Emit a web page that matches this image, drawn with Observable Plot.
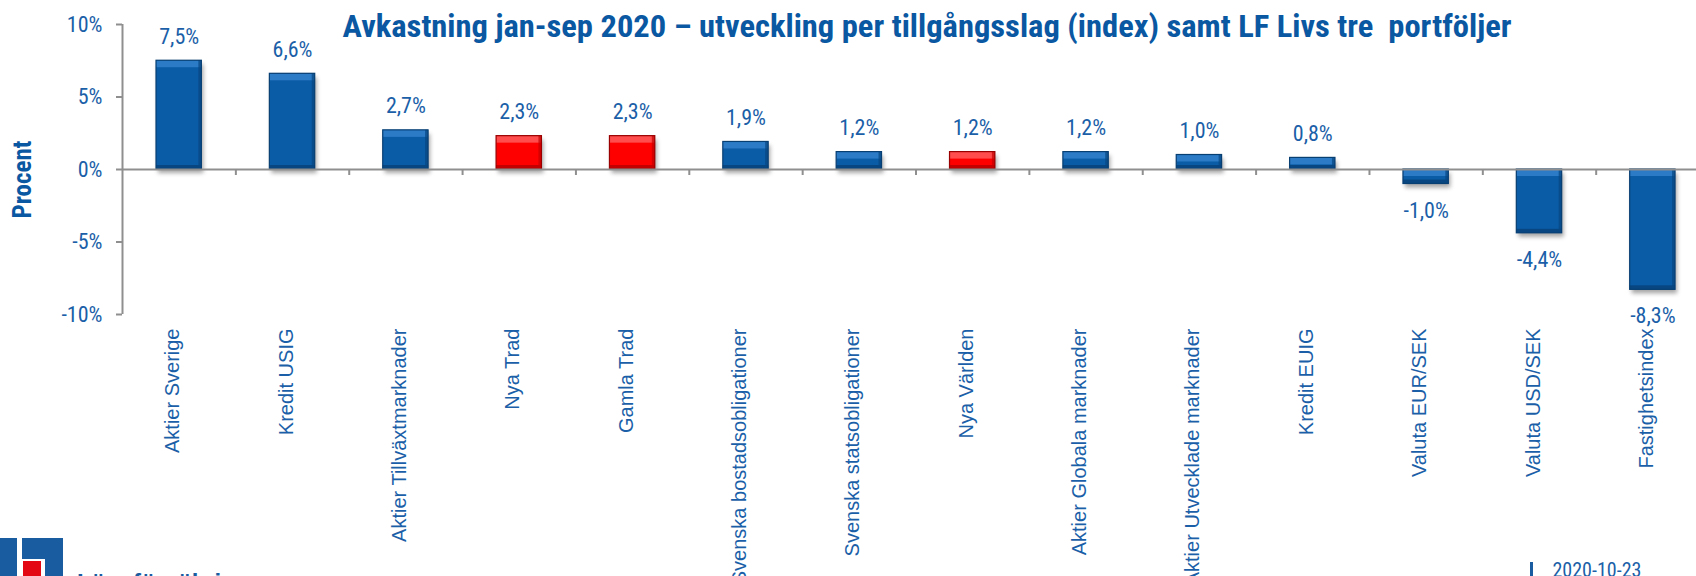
<!DOCTYPE html>
<html>
<head>
<meta charset="utf-8">
<script src="https://cdn.jsdelivr.net/npm/d3@7"></script>
<script src="https://cdn.jsdelivr.net/npm/@observablehq/plot@0.6"></script>
<style>
  html, body { margin: 0; padding: 0; background: #fff; }
  #wrap { position: relative; width: 1696px; height: 576px; overflow: hidden; background: #fff; }
  #wrap svg { display: block; overflow: hidden; }
  .logo { position: absolute; }
  #logoText { position: absolute; left: 77px; top: 569px; font: bold 24px "Liberation Sans", Arial, sans-serif; color: #1a5ca0; white-space: nowrap; }
  #dateBar { position: absolute; left: 1530px; top: 562px; width: 3px; height: 14px; background: #1a5ca0; }
</style>
</head>
<body>
<div id="wrap"></div>
<script>
// ---- data ----
const categories = [
  "Aktier Sverige", "Kredit USIG", "Aktier Tillväxtmarknader", "Nya Trad", "Gamla Trad",
  "Svenska bostadsobligationer", "Svenska statsobligationer", "Nya Världen",
  "Aktier Globala marknader", "Aktier Utvecklade marknader", "Kredit EUIG",
  "Valuta EUR/SEK", "Valuta USD/SEK", "Fastighetsindex"
];
const values = [7.5, 6.6, 2.7, 2.3, 2.3, 1.9, 1.2, 1.2, 1.2, 1.0, 0.8, -1.0, -4.4, -8.3];
const valueLabels = ["7,5%", "6,6%", "2,7%", "2,3%", "2,3%", "1,9%", "1,2%", "1,2%", "1,2%", "1,0%", "0,8%", "-1,0%", "-4,4%", "-8,3%"];
const isPortfolio = [false, false, false, true, true, false, false, true, false, false, false, false, false, false];
const yTicks = [-10, -5, 0, 5, 10];
const yTickLabels = ["-10%", "-5%", "0%", "5%", "10%"];
const titleText = "Avkastning jan-sep 2020 – utveckling per tillgångsslag (index) samt LF Livs tre  portföljer";
const yLabel = "Procent";
const dateText = "2020-10-23";
const logoText = "Länsförsäkringar";

// ---- styles ----
const BLUE = "#0b5ca6", BLUE_LIGHT = "#3383cf", BLUE_DARK = "#074680", BLUE_EDGE = "#083f73";
const RED = "#ff0000", RED_LIGHT = "#ff6060", RED_DARK = "#c40000", RED_EDGE = "#9a0000";
const TXT = "#1b5fa8", TITLE = "#0a57a2", GREY = "#8f8f8f";
const NARROW = "'Liberation Sans Narrow', 'Arial Narrow', 'Roboto Condensed', 'Liberation Sans', sans-serif";
const REG = "'Liberation Sans', Arial, sans-serif";

const data = categories.map((c, i) => ({
  c, i, v: values[i], label: valueLabels[i], p: isPortfolio[i]
}));
const bx1 = d => d.i + 0.3, bx2 = d => d.i + 0.7, bxc = d => d.i + 0.5;

const plot = Plot.plot({
  width: 1696,
  height: 576,
  marginLeft: 122,
  marginRight: 0,
  marginTop: 24,
  marginBottom: 262,
  x: { type: "linear", domain: [0, categories.length], range: [122, 122 + 113.36 * categories.length], axis: null },
  y: { domain: [-10, 10], axis: null },
  color: { type: "identity" },
  style: { background: "#fff" },
  marks: [
    // y axis line and ticks
    Plot.ruleX([0], { y1: -10, y2: 10, stroke: GREY, strokeWidth: 2 }),
    Plot.ruleY(yTicks, { x1: 0, x2: 0, insetLeft: -6, stroke: GREY, strokeWidth: 2 }),
    Plot.text(yTicks, { y: d => d, frameAnchor: "left", dx: -20, textAnchor: "end",
      text: (d, i) => yTickLabels[i], fill: TXT, fontSize: 22, fontFamily: NARROW }),
    // bars
    Plot.rectY(data, { x1: bx1, x2: bx2, y1: 0, y2: "v", fill: d => d.p ? RED : BLUE }),
    Plot.rectY(data, { x1: bx1, x2: bx2, y1: d => Math.max(d.v, 0), y2: d => Math.max(d.v, 0),
      insetBottom: -7, fill: d => d.p ? RED_LIGHT : BLUE_LIGHT, fillOpacity: 0.8 }),
    Plot.rectY(data, { x1: bx2, x2: bx2, y1: 0, y2: "v", insetLeft: -3,
      fill: d => d.p ? RED_DARK : BLUE_DARK, fillOpacity: 0.7 }),
    Plot.rectY(data, { x1: bx1, x2: bx2, y1: d => Math.min(d.v, 0), y2: d => Math.min(d.v, 0),
      insetTop: -4, fill: d => d.p ? RED_DARK : BLUE_DARK }),
    Plot.rectY(data, { x1: bx1, x2: bx2, y1: 0, y2: "v", fill: "none",
      stroke: d => d.p ? RED_EDGE : BLUE_EDGE, strokeWidth: 1.2 }),
    // zero line and category boundary ticks
    Plot.ruleY([0], { x1: 0, x2: categories.length, stroke: GREY, strokeWidth: 2 }),
    Plot.ruleX(d3.range(1, categories.length), { y1: 0, y2: 0, insetBottom: -6, stroke: GREY, strokeWidth: 2 }),
    // value labels
    Plot.text(data.filter(d => d.v >= 0), { x: bxc, y: "v", text: "label", lineAnchor: "bottom", dy: -17,
      fill: TXT, fontSize: 22, fontFamily: NARROW }),
    Plot.text(data.filter(d => d.v < 0), { x: bxc, y: "v", text: "label", lineAnchor: "top", dy: 18,
      fill: TXT, fontSize: 22, fontFamily: NARROW }),
    // category labels
    Plot.text(data, { x: bxc, frameAnchor: "bottom", text: "c", rotate: -90, textAnchor: "end", dy: 14,
      fill: TXT, fontSize: 20, fontFamily: REG }),
    // y label
    Plot.text([yLabel], { x: 0, y: 0, dx: -100, dy: 10, rotate: -90, text: d => d,
      fill: TITLE, fontSize: 25, fontWeight: "bold", fontFamily: NARROW }),
    // title
    Plot.text([titleText], { frameAnchor: "top-left", dx: 220, dy: 12, textAnchor: "start", lineAnchor: "bottom",
      text: d => d, fill: TITLE, fontSize: 32, fontWeight: "bold", fontFamily: NARROW }),
    // date
    Plot.text([dateText], { frameAnchor: "bottom-left", dx: 1430, dy: 262, textAnchor: "start", lineAnchor: "bottom",
      text: d => d, fill: TXT, fontSize: 20, fontFamily: NARROW })
  ]
});

// soft shadow under the main bar fills
for (const r of plot.querySelectorAll("rect")) {
  const f = (r.getAttribute("fill") || "").toLowerCase();
  if (f === BLUE || f === RED) r.style.filter = "drop-shadow(2px 4px 2px rgba(0,0,0,0.35))";
}
// fit title width
for (const t of plot.querySelectorAll("text")) {
  if (t.textContent === titleText) {
    t.setAttribute("textLength", "1169");
    t.setAttribute("lengthAdjust", "spacingAndGlyphs");
    t.setAttribute("xml:space", "preserve");
    t.style.whiteSpace = "pre";
  }
}

const wrap = document.getElementById("wrap");
wrap.appendChild(plot);

// logo (decoration)
const logoParts = [
  { l: 0, t: 538, w: 17, h: 38, c: "#1a5ca0" },
  { l: 22, t: 538, w: 41, h: 38, c: "#1a5ca0" },
  { l: 22, t: 559, w: 23, h: 17, c: "#ffffff" },
  { l: 23, t: 561, w: 18, h: 15, c: "#e30613" }
];
for (const p of logoParts) {
  const d = document.createElement("div");
  d.className = "logo";
  Object.assign(d.style, { left: p.l + "px", top: p.t + "px", width: p.w + "px", height: p.h + "px", background: p.c });
  wrap.appendChild(d);
}
const lt = document.createElement("div");
lt.id = "logoText"; lt.textContent = logoText; wrap.appendChild(lt);
const db = document.createElement("div");
db.id = "dateBar"; wrap.appendChild(db);
</script>
</body>
</html>
